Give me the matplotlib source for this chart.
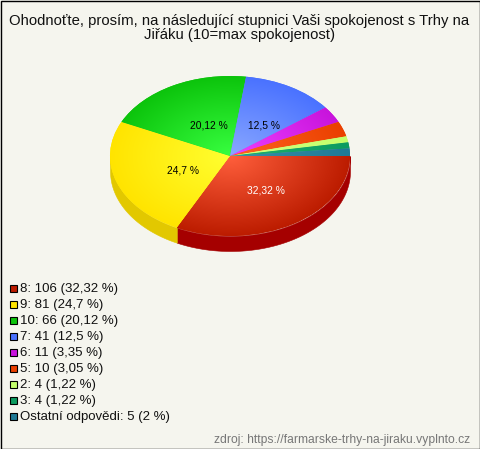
import numpy as np
import matplotlib
matplotlib.use("Agg")
import matplotlib.pyplot as plt
from matplotlib.colors import LinearSegmentedColormap
from matplotlib.patches import Rectangle

title = "Ohodnoťte, prosím, na následující stupnici Vaši spokojenost s Trhy na\nJiřáku (10=max spokojenost)"
source = "zdroj: https://farmarske-trhy-na-jiraku.vyplnto.cz"
names = ["8", "9", "10", "7", "6", "5", "2", "3", "Ostatní odpovědi"]
counts = [106, 81, 66, 41, 11, 10, 4, 4, 5]
pct_text = ["32,32", "24,7", "20,12", "12,5", "3,35", "3,05", "1,22", "1,22", "2"]
edge_colors = ["#bc1c00", "#ffe400", "#0cc40c", "#4a72ff", "#c814dc", "#ea4000", "#c4ff6c", "#0c9c60", "#1f7a96"]
center_colors = ["#ff5f3c", "#ffff30", "#38ff40", "#8aa8ff", "#ee40ff", "#ff6420", "#d4ff80", "#20b070", "#3a90a8"]
wall_colors = ["#a50000", "#e2c800"]
labelled = [0, 1, 2, 3]
label_colors = ["white", "black", "black", "black"]

W, H = 480, 449
BG = "#f5f5ee"
plt.rcParams["font.family"] = ["Liberation Sans", "DejaVu Sans"]
fig = plt.figure(figsize=(W / 100, H / 100), dpi=100, facecolor=BG)

# pie axes: 1 unit = 120 px in x and 80 px in y, centred on the pie
cx, cy, rx, ry, depth = 230, 156, 120, 80, 15
pie_ax = fig.add_axes([0, 0, 1, 1], facecolor="none")
wedges, _ = pie_ax.pie(counts, colors=edge_colors, startangle=0, counterclock=False,
                       wedgeprops=dict(linewidth=0))
pie_ax.set_aspect("auto")
pie_ax.set_axis_off()

# side wall
frac = np.cumsum(counts) / np.sum(counts)
d = depth / ry
starts = [0, frac[0]]
ends = [frac[0], 0.5]
for s, e, col in zip(starts, ends, wall_colors):
    th = np.linspace(s, e, 120) * 2 * np.pi
    x, y = np.cos(th), -np.sin(th)
    pie_ax.fill_between(x, y, y - d, color=col, linewidth=0.4, zorder=0.5)

# radial shading of the top face
yy, xx = np.mgrid[-1:1:400j, -1:1:400j]
rr = np.hypot(xx, yy)
for w, c0, c1 in zip(wedges, center_colors, edge_colors):
    cmap = LinearSegmentedColormap.from_list("g", [c0, c1])
    im = pie_ax.imshow(rr, cmap=cmap, vmin=0, vmax=1, extent=(-1, 1, -1, 1), origin="lower",
                       aspect="auto", zorder=2, interpolation="bilinear")
    im.set_clip_path(w)
pie_ax.set_xlim(-cx / rx, (W - cx) / rx)
pie_ax.set_ylim((cy - H) / ry, cy / ry)

# slice labels
mids = (np.r_[0, frac[:-1]] + frac) / 2
for i, col in zip(labelled, label_colors):
    a = mids[i] * 2 * np.pi
    pie_ax.annotate(f"{pct_text[i]} %", (0.47 * np.cos(a), -0.47 * np.sin(a)),
                    xytext=(4.2, -1.6), textcoords="offset points", ha="center", va="center",
                    fontsize=7.4, color=col, zorder=5)

# overlay in pixel coordinates for text and legend
ov = fig.add_axes([0, 0, 1, 1], facecolor="none")
ov.set_xlim(0, W)
ov.set_ylim(H, 0)
ov.set_axis_off()
ov.text(239.5, 28, title, ha="center", va="center", fontsize=10.7, color="#111111", linespacing=1.08)
for i, (n, c, p, col) in enumerate(zip(names, counts, pct_text, edge_colors)):
    y = 289 + 16 * i
    ov.add_patch(Rectangle((9.5, y - 4), 7, 7, facecolor=col, edgecolor="black", linewidth=0.8))
    ov.text(20, y, f"{n}: {c} ({p} %)", ha="left", va="center", fontsize=9.55, color="#111111")
ov.text(470, 440, source, ha="right", va="center", fontsize=8.7, color="#777777")
ov.add_patch(Rectangle((0.5, 0.5), W - 1, H - 1, fill=False, edgecolor="black", linewidth=1))

fig.savefig("out.png", dpi=100, facecolor=BG)
